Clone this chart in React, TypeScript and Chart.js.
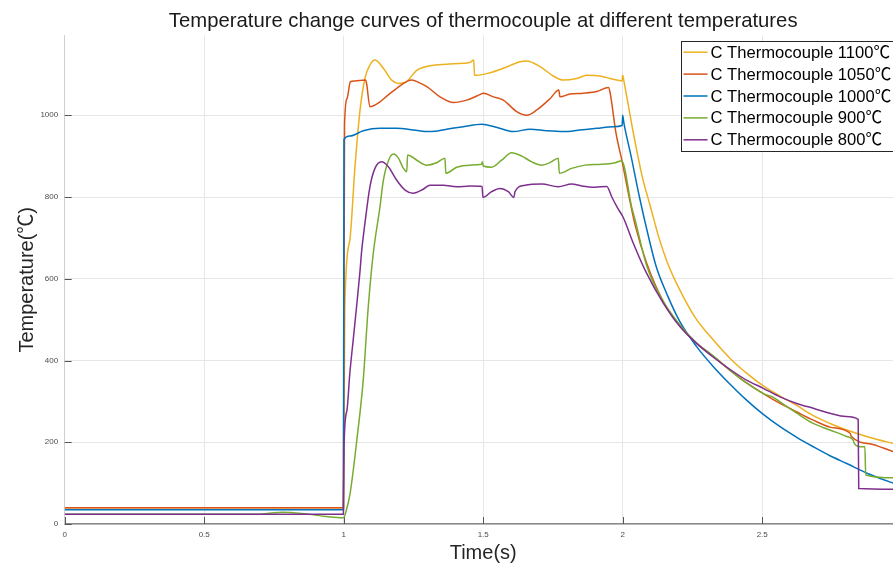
import React, { useEffect, useRef } from 'react';
import { Chart, registerables } from 'chart.js';

Chart.register(...registerables);

const chartTitle = 'Temperature change curves of thermocouple at different temperatures';
const xTitle = 'Time(s)';
const yTitle = 'Temperature(℃)';

const seriesLabels = [
  'C Thermocouple 1100℃',
  'C Thermocouple 1050℃',
  'C Thermocouple 1000℃',
  'C Thermocouple 900℃',
  'C Thermocouple 800℃',
];
const seriesColors = ['#EDB120', '#D95319', '#0072BD', '#77AC30', '#7E2F8E'];

const xTicks = [0, 0.5, 1, 1.5, 2, 2.5];
const yTicks = [0, 200, 400, 600, 800, 1000];

const t1100 = [0, 0.999, 1.004, 1.022, 1.04, 1.058, 1.076, 1.094, 1.112, 1.142, 1.172, 1.196, 1.22, 1.262, 1.309, 1.369, 1.429, 1.455, 1.466, 1.469, 1.477, 1.524, 1.572, 1.632, 1.656, 1.704, 1.751, 1.787, 1.835, 1.871, 1.919, 1.966, 1.998, 2.0, 2.004, 2.04, 2.07, 2.1, 2.13, 2.16, 2.205, 2.26, 2.325, 2.385, 2.444, 2.504, 2.564, 2.624, 2.683, 2.743, 2.803, 2.88, 2.97, 3.0];
const v1100 = [40, 40, 531, 695, 870, 1009, 1090, 1123, 1135, 1115, 1086, 1078, 1080, 1110, 1121, 1125, 1127, 1130, 1135, 1098, 1098, 1104, 1115, 1131, 1133, 1119, 1096, 1086, 1090, 1098, 1096, 1088, 1084, 1098, 1085, 950, 850, 775, 700, 640, 572, 505, 450, 405, 369, 338, 313, 290, 265, 246, 230, 213, 197, 192];

const t1050 = [0, 0.999, 1.003, 1.012, 1.024, 1.04, 1.078, 1.082, 1.094, 1.13, 1.16, 1.19, 1.244, 1.27, 1.298, 1.345, 1.393, 1.441, 1.49, 1.5, 1.537, 1.572, 1.62, 1.656, 1.692, 1.74, 1.771, 1.775, 1.811, 1.859, 1.907, 1.949, 1.955, 1.975, 2.0, 2.02, 2.045, 2.086, 2.145, 2.205, 2.265, 2.325, 2.385, 2.444, 2.504, 2.564, 2.624, 2.683, 2.743, 2.815, 2.82, 2.9, 2.97, 3.0];
const v1050 = [40, 40, 976, 1041, 1082, 1084, 1086, 1078, 1021, 1033, 1050, 1066, 1086, 1080, 1070, 1045, 1031, 1037, 1051, 1054, 1045, 1037, 1009, 1000, 1013, 1041, 1062, 1045, 1052, 1054, 1058, 1068, 1055, 960, 880, 810, 730, 638, 545, 485, 442, 410, 376, 345, 319, 295, 274, 254, 237, 222, 214, 194, 177, 172];

const t1000 = [0, 0.999, 1.001, 1.022, 1.07, 1.13, 1.19, 1.25, 1.309, 1.369, 1.429, 1.495, 1.55, 1.608, 1.668, 1.728, 1.787, 1.847, 1.907, 1.966, 1.998, 2.0, 2.004, 2.03, 2.06, 2.09, 2.12, 2.16, 2.205, 2.265, 2.325, 2.385, 2.444, 2.504, 2.564, 2.624, 2.683, 2.743, 2.803, 2.88, 2.97, 3.0];
const v1000 = [35, 35, 941, 949, 962, 968, 968, 964, 960, 966, 972, 978, 970, 960, 966, 962, 960, 964, 968, 972, 975, 1000, 982, 900, 800, 710, 630, 560, 495, 434, 385, 342, 303, 268, 238, 212, 189, 167, 148, 123, 100, 94];

const t900 = [0, 0.7, 0.74, 0.78, 0.85, 0.93, 0.999, 1.01, 1.023, 1.047, 1.07, 1.088, 1.106, 1.13, 1.142, 1.16, 1.178, 1.196, 1.214, 1.226, 1.229, 1.262, 1.297, 1.333, 1.363, 1.366, 1.405, 1.453, 1.494, 1.497, 1.5, 1.53, 1.566, 1.602, 1.638, 1.674, 1.71, 1.739, 1.769, 1.773, 1.817, 1.865, 1.925, 1.973, 1.996, 2.032, 2.044, 2.086, 2.145, 2.205, 2.265, 2.325, 2.385, 2.444, 2.504, 2.54, 2.564, 2.6, 2.624, 2.683, 2.743, 2.803, 2.826, 2.83, 2.851, 2.868, 2.871, 2.97, 3.0];
const v900 = [24, 24, 27, 29, 26, 19, 15, 35, 75, 205, 352, 531, 662, 776, 840, 888, 905, 895, 870, 862, 903, 890, 878, 884, 895, 858, 873, 878, 880, 886, 876, 873, 890, 908, 900, 886, 878, 884, 895, 858, 870, 878, 880, 884, 889, 776, 745, 632, 545, 487, 443, 411, 376, 345, 319, 310, 299, 282, 271, 246, 230, 214, 205, 197, 189, 189, 120, 113, 112];

const t800 = [0, 0.999, 1.001, 1.012, 1.022, 1.034, 1.046, 1.058, 1.064, 1.076, 1.094, 1.112, 1.136, 1.16, 1.19, 1.22, 1.249, 1.285, 1.309, 1.357, 1.405, 1.453, 1.496, 1.499, 1.53, 1.56, 1.59, 1.61, 1.614, 1.65, 1.71, 1.769, 1.817, 1.853, 1.901, 1.943, 1.961, 1.98, 2.002, 2.038, 2.086, 2.146, 2.205, 2.265, 2.325, 2.385, 2.444, 2.504, 2.564, 2.624, 2.683, 2.743, 2.8, 2.844, 2.846, 2.97, 3.0];
const v800 = [24, 24, 189, 280, 369, 450, 531, 615, 665, 735, 825, 870, 886, 874, 841, 817, 809, 819, 829, 829, 825, 827, 826, 799, 813, 821, 813, 799, 813, 829, 832, 825, 832, 827, 824, 826, 800, 775, 750, 687, 613, 540, 483, 442, 408, 378, 352, 332, 311, 295, 283, 271, 263, 256, 87, 85, 85];

const seriesTimes = [t1100, t1050, t1000, t900, t800];
const seriesValues = [v1100, v1050, v1000, v900, v800];

const FONT = "'Liberation Sans', Arial, 'Noto Sans CJK SC', sans-serif";

const inwardTicks = {
  id: 'inwardTicks',
  beforeDatasetsDraw(chart: any) {
    const { ctx, chartArea, scales } = chart;
    ctx.save();
    ctx.strokeStyle = '#555';
    ctx.lineWidth = 1;
    scales.x.ticks.forEach((tk: any) => {
      const px = Math.round(scales.x.getPixelForValue(tk.value)) + 0.5;
      ctx.beginPath();
      ctx.moveTo(px, chartArea.bottom);
      ctx.lineTo(px, chartArea.bottom - 7);
      ctx.stroke();
    });
    scales.y.ticks.forEach((tk: any) => {
      const py = Math.round(scales.y.getPixelForValue(tk.value)) + 0.5;
      ctx.beginPath();
      ctx.moveTo(chartArea.left, py);
      ctx.lineTo(chartArea.left + 7, py);
      ctx.stroke();
    });
    ctx.restore();
  },
};

const boxLegend = {
  id: 'boxLegend',
  afterDraw(chart: any) {
    const { ctx, chartArea } = chart;
    const x0 = Math.round(chartArea.right - 221) + 0.5;
    const y0 = Math.round(chartArea.top + 5) + 0.5;
    const rowH = 21.9;
    const n = chart.data.datasets.length;
    const w = 226;
    const h = n * rowH + 0.5;
    ctx.save();
    ctx.fillStyle = '#ffffff';
    ctx.fillRect(x0, y0, w, h);
    ctx.strokeStyle = '#262626';
    ctx.lineWidth = 1;
    ctx.strokeRect(x0, y0, w, h);
    ctx.font = `16.6px ${FONT}`;
    ctx.textBaseline = 'middle';
    ctx.textAlign = 'left';
    chart.data.datasets.forEach((ds: any, i: number) => {
      const cy = y0 + 10.7 + i * rowH;
      ctx.strokeStyle = ds.borderColor;
      ctx.lineWidth = 1.5;
      ctx.beginPath();
      ctx.moveTo(x0 + 2, cy);
      ctx.lineTo(x0 + 26, cy);
      ctx.stroke();
      ctx.fillStyle = '#000000';
      ctx.fillText(ds.label, x0 + 29, cy + 1);
    });
    ctx.restore();
  },
};

export default function App() {
  const ref = useRef<HTMLCanvasElement | null>(null);

  useEffect(() => {
    if (!ref.current) return;
    const datasets = seriesLabels.map((label, i) => ({
      label,
      data: seriesTimes[i].map((t, j) => ({ x: t, y: seriesValues[i][j] })),
      borderColor: seriesColors[i],
      backgroundColor: seriesColors[i],
      borderWidth: 1.5,
      pointRadius: 0,
      cubicInterpolationMode: 'monotone',
      fill: false,
      order: seriesLabels.length - i,
    }));

    const chart = new Chart(ref.current, {
      type: 'line',
      data: { datasets },
      plugins: [inwardTicks, boxLegend],
      options: {
        responsive: false,
        animation: false,
        devicePixelRatio: 1,
        layout: { padding: { top: 0, right: 8.3, bottom: 0, left: 0 } },
        plugins: {
          legend: { display: false },
          tooltip: { enabled: false },
          title: {
            display: true,
            text: chartTitle,
            fullSize: false,
            color: '#1a1a1a',
            font: { family: FONT, size: 20.3, weight: 'normal' },
            padding: { top: 9, bottom: 2.2 },
          },
        },
        scales: {
          x: {
            type: 'linear',
            min: 0,
            max: 3,
            afterBuildTicks: (s: any) => {
              s.ticks = xTicks.map((v) => ({ value: v }));
            },
            afterFit: (s: any) => {
              s.height = 41;
            },
            grid: { color: '#e6e6e6', lineWidth: 1, drawTicks: false },
            border: { color: '#8a8a8a', width: 1.5 },
            ticks: {
              autoSkip: false,
              maxRotation: 0,
              padding: 5.5,
              color: '#4d4d4d',
              font: { family: FONT, size: 8 },
              callback: (v: any) => String(v),
            },
            title: {
              display: true,
              text: xTitle,
              color: '#262626',
              font: { family: FONT, size: 20 },
              padding: { top: 0, bottom: 0 },
            },
          },
          y: {
            type: 'linear',
            min: 0,
            max: 1195,
            afterBuildTicks: (s: any) => {
              s.ticks = yTicks.map((v) => ({ value: v }));
            },
            afterFit: (s: any) => {
              s.width = 64.7;
            },
            grid: { color: '#e6e6e6', lineWidth: 1, drawTicks: false },
            border: { color: '#cfcfcf', width: 1 },
            ticks: {
              padding: 6.5,
              color: '#4d4d4d',
              font: { family: FONT, size: 8 },
              callback: (v: any) => String(v),
            },
            title: {
              display: true,
              text: yTitle,
              color: '#262626',
              font: { family: FONT, size: 20 },
              padding: { top: 15.5, bottom: 0 },
            },
          },
        },
      } as any,
    });
    return () => chart.destroy();
  }, []);

  return (
    <div
      style={{
        position: 'fixed',
        left: 0,
        top: 0,
        width: 893,
        height: 565,
        overflow: 'hidden',
        background: '#ffffff',
      }}
    >
      <canvas ref={ref} width={910} height={565} style={{ display: 'block', width: 910, height: 565 }} />
    </div>
  );
}
